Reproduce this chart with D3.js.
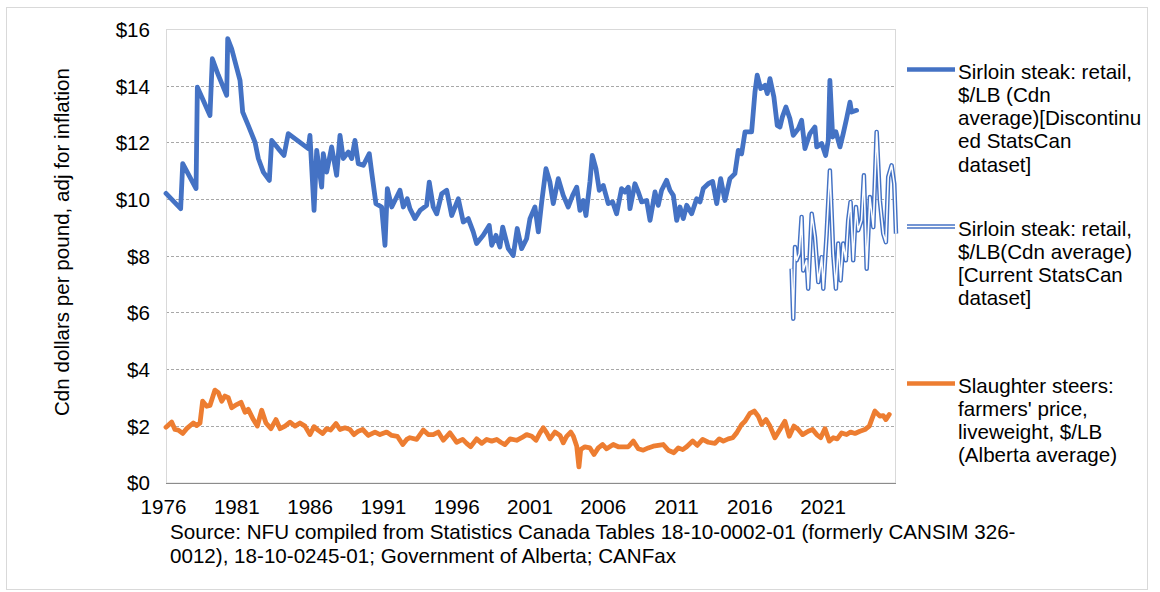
<!DOCTYPE html>
<html>
<head>
<meta charset="utf-8">
<script src="https://cdn.jsdelivr.net/npm/d3@7"></script>
<style>
  html, body { margin: 0; padding: 0; background: #fff; }
  svg { display: block; font-family: "Liberation Sans", Arial, sans-serif; }
</style>
</head>
<body>
<svg id="chart" width="1160" height="592"></svg>
<script>
// ---- DATA (decimal year, $/lb) ----
const sirloinOld = [
  [1976.0,10.2],[1977.0,9.66],[1977.14,11.25],[1978.05,10.37],[1978.14,13.95],[1978.44,13.6],
  [1979.0,12.95],[1979.16,14.95],[1979.57,14.37],[1980.14,13.66],[1980.21,15.66],[1980.48,15.3],
  [1981.05,14.19],[1981.23,13.07],[1981.61,12.6],[1982.07,12.01],[1982.3,11.43],[1982.64,10.95],
  [1983.05,10.66],[1983.21,12.07],[1983.66,11.78],[1984.05,11.54],[1984.34,12.31],[1985.71,11.78],
  [1985.82,12.25],[1986.1,9.6],[1986.28,11.72],[1986.62,10.42],[1986.73,11.6],[1986.96,10.95],
  [1987.3,11.84],[1987.64,10.84],[1987.87,12.25],[1988.09,11.43],[1988.44,11.66],[1988.67,11.43],
  [1988.89,12.07],[1989.12,11.25],[1989.46,11.19],[1989.87,11.6],[1990.03,10.95],[1990.32,9.84],
  [1990.71,9.72],[1990.94,8.37],[1991.1,10.37],[1991.4,9.72],[1991.96,10.31],[1992.19,9.72],
  [1992.46,10.01],[1992.64,9.66],[1992.98,9.31],[1993.33,9.6],[1993.78,9.78],[1993.96,10.6],
  [1994.23,9.72],[1994.47,9.48],[1994.81,10.19],[1995.15,10.31],[1995.49,9.42],[1995.94,10.01],
  [1996.28,9.19],[1996.62,9.31],[1996.96,8.84],[1997.19,8.43],[1997.64,8.72],[1998.05,9.07],
  [1998.22,8.37],[1998.51,8.72],[1998.78,8.31],[1998.97,9.01],[1999.35,8.25],[1999.69,8.01],
  [1999.96,8.96],[2000.26,8.25],[2000.6,8.6],[2000.83,9.31],[2001.17,9.72],[2001.4,8.84],
  [2001.63,9.9],[2001.92,11.07],[2002.19,10.6],[2002.42,9.84],[2002.76,10.72],[2003.1,10.13],
  [2003.44,9.72],[2003.74,10.13],[2004.02,10.42],[2004.24,9.6],[2004.47,9.95],[2004.65,9.42],
  [2004.92,10.6],[2005.08,11.54],[2005.33,11.07],[2005.56,10.31],[2005.83,10.48],[2006.17,9.84],
  [2006.47,9.9],[2006.74,9.48],[2007.08,10.37],[2007.31,10.25],[2007.54,10.42],[2007.65,9.66],
  [2007.99,10.54],[2008.22,10.25],[2008.45,9.9],[2008.79,9.95],[2009.02,9.25],[2009.36,10.25],
  [2009.58,9.78],[2009.81,10.31],[2010.15,10.66],[2010.38,10.31],[2010.61,10.13],[2010.84,9.25],
  [2011.06,9.72],[2011.29,9.31],[2011.52,9.78],[2011.86,9.48],[2012.2,10.01],[2012.43,9.9],
  [2012.65,10.37],[2012.99,10.54],[2013.29,10.62],[2013.57,9.84],[2013.84,10.72],[2014.13,9.95],
  [2014.47,10.72],[2014.81,10.9],[2015.04,11.72],[2015.27,11.6],[2015.5,12.37],[2015.95,12.37],
  [2016.18,13.78],[2016.33,14.37],[2016.57,13.9],[2016.86,14.01],[2017.02,13.72],[2017.2,14.25],
  [2017.47,13.6],[2017.7,12.6],[2017.88,12.54],[2018.05,12.9],[2018.29,13.25],[2018.56,12.84],
  [2018.79,12.25],[2019.13,12.48],[2019.36,12.78],[2019.59,11.78],[2019.93,12.31],[2020.27,12.54],
  [2020.39,11.84],[2020.73,11.96],[2021.0,11.54],[2021.18,12.07],[2021.29,14.19],[2021.48,12.19],
  [2021.7,12.37],[2021.98,11.84],[2022.2,12.31],[2022.43,12.84],[2022.66,13.42],[2022.77,13.07],
  [2023.11,13.13]
];
const sirloinCurrent = [
  [2018.68,7.54],[2018.79,5.78],[2018.91,8.31],[2019.02,7.84],[2019.2,8.07],[2019.36,9.37],
  [2019.47,7.48],[2019.7,7.84],[2019.81,6.84],[2020.05,9.48],[2020.27,8.66],[2020.5,7.07],
  [2020.73,7.95],[2020.84,6.84],[2021.07,8.78],[2021.29,11.01],[2021.52,8.07],[2021.7,6.84],
  [2021.86,8.43],[2022.02,7.13],[2022.2,8.43],[2022.38,7.84],[2022.54,9.25],[2022.7,9.9],
  [2022.88,7.84],[2023.07,9.72],[2023.22,8.9],[2023.45,9.25],[2023.61,10.84],[2023.8,7.54],
  [2024.02,10.07],[2024.25,9.01],[2024.48,12.37],[2024.7,9.95],[2024.93,8.78],[2025.11,8.48],
  [2025.27,10.78],[2025.5,11.19],[2025.68,10.54],[2025.8,8.78]
];
const steers = [
  [1976.0,1.95],[1976.39,2.13],[1976.61,1.87],[1976.84,1.85],[1977.14,1.73],[1977.41,1.9],
  [1977.86,2.1],[1978.09,2.01],[1978.32,2.1],[1978.5,2.87],[1978.78,2.69],[1979.0,2.72],
  [1979.34,3.26],[1979.57,3.17],[1979.8,2.87],[1980.02,3.05],[1980.25,2.99],[1980.48,2.64],
  [1980.82,2.75],[1981.12,2.83],[1981.39,2.48],[1981.61,2.58],[1981.96,2.22],[1982.23,1.99],
  [1982.53,2.55],[1982.82,2.1],[1983.16,1.9],[1983.5,2.22],[1983.78,1.9],[1984.12,1.99],
  [1984.46,2.13],[1984.8,1.99],[1985.14,2.1],[1985.48,1.99],[1985.82,1.69],[1986.1,1.97],
  [1986.39,1.84],[1986.69,1.73],[1986.96,1.9],[1987.23,1.85],[1987.6,2.08],[1987.87,1.87],
  [1988.21,1.93],[1988.55,1.87],[1988.82,1.69],[1989.12,1.81],[1989.42,1.87],[1989.8,1.66],
  [1990.26,1.78],[1990.6,1.69],[1991.05,1.78],[1991.4,1.66],[1991.78,1.63],[1992.15,1.34],
  [1992.42,1.52],[1992.64,1.58],[1993.1,1.52],[1993.55,1.85],[1993.89,1.69],[1994.23,1.69],
  [1994.57,1.78],[1994.92,1.49],[1995.37,1.75],[1995.83,1.42],[1996.24,1.52],[1996.51,1.38],
  [1996.78,1.26],[1997.19,1.54],[1997.54,1.38],[1997.88,1.52],[1998.22,1.46],[1998.56,1.52],
  [1998.83,1.42],[1999.12,1.34],[1999.47,1.54],[1999.92,1.49],[2000.26,1.58],[2000.6,1.69],
  [2000.95,1.63],[2001.24,1.49],[2001.51,1.75],[2001.74,1.93],[2001.97,1.75],[2002.19,1.54],
  [2002.53,1.78],[2002.88,1.66],[2003.1,1.4],[2003.33,1.63],[2003.61,1.78],[2003.79,1.63],
  [2004.02,1.28],[2004.17,0.55],[2004.29,1.16],[2004.58,1.26],[2004.92,1.22],[2005.2,0.99],
  [2005.49,1.22],[2005.79,1.34],[2006.06,1.19],[2006.51,1.34],[2006.85,1.26],[2007.19,1.26],
  [2007.54,1.26],[2007.88,1.46],[2008.22,1.19],[2008.56,1.14],[2008.9,1.22],[2009.24,1.28],
  [2009.58,1.31],[2009.92,1.34],[2010.26,1.14],[2010.65,1.05],[2010.95,1.22],[2011.25,1.16],
  [2011.52,1.26],[2011.93,1.46],[2012.24,1.31],[2012.61,1.52],[2012.99,1.42],[2013.45,1.38],
  [2013.74,1.54],[2014.02,1.46],[2014.36,1.54],[2014.66,1.58],[2014.93,1.75],[2015.27,2.05],
  [2015.5,2.16],[2015.84,2.44],[2016.13,2.52],[2016.4,2.34],[2016.63,2.05],[2016.93,2.22],
  [2017.2,1.99],[2017.54,1.58],[2017.88,1.87],[2018.22,2.16],[2018.52,1.63],[2018.84,1.99],
  [2019.13,1.87],[2019.43,1.69],[2019.81,1.81],[2020.11,1.87],[2020.39,1.69],[2020.66,1.58],
  [2020.95,1.9],[2021.25,1.46],[2021.52,1.58],[2021.79,1.54],[2022.09,1.75],[2022.43,1.69],
  [2022.7,1.78],[2023.0,1.73],[2023.34,1.81],[2023.68,1.87],[2023.98,1.99],[2024.14,2.22],
  [2024.36,2.52],[2024.7,2.34],[2024.93,2.36],[2025.11,2.22],[2025.34,2.4]
];
const yTicks = [0, 2, 4, 6, 8, 10, 12, 14, 16];
const xTickYears = [1976, 1981, 1986, 1991, 1996, 2001, 2006, 2011, 2016, 2021];
const legendItems = [
  { key: "old", lines: ["Sirloin steak: retail,", "$/LB (Cdn", "average)[Discontinu", "ed StatsCan", "dataset]"] },
  { key: "cur", lines: ["Sirloin steak: retail,", "$/LB(Cdn average)", "[Current StatsCan", "dataset]"] },
  { key: "steer", lines: ["Slaughter steers:", "farmers' price,", "liveweight, $/LB", "(Alberta average)"] }
];
const yTitle = "Cdn dollars per pound, adj for inflation";
const sourceLines = [
  "Source: NFU compiled from Statistics Canada Tables 18-10-0002-01 (formerly CANSIM 326-",
  "0012), 18-10-0245-01; Government of Alberta; CANFax"
];

// ---- LAYOUT ----
const BLUE = "#4472C4", ORANGE = "#ED7D31";
const FS = 20.6;
const plot = { left: 166, right: 895, top: 29, bottom: 482.5 };
const svg = d3.select("#chart");

// outer border
svg.append("rect").attr("x", 6.5).attr("y", 7.5).attr("width", 1141).attr("height", 582)
  .attr("fill", "#fff").attr("stroke", "#d9d9d9").attr("stroke-width", 1);

const x = d3.scaleLinear().domain([1976, 2025.8]).range([plot.left, plot.right + 1]);
const y = d3.scaleLinear().domain([0, 16]).range([plot.bottom, plot.top]);

// gridlines
svg.append("g").selectAll("line").data(yTicks.filter(d => d > 0 && d < 16)).join("line")
  .attr("x1", plot.left).attr("x2", plot.right)
  .attr("y1", d => Math.round(y(d)) + 0.5).attr("y2", d => Math.round(y(d)) + 0.5)
  .attr("stroke", "#a8a8a8").attr("stroke-dasharray", "3,2").attr("stroke-width", 1);

// plot border
svg.append("rect").attr("x", plot.left + 0.5).attr("y", plot.top + 0.5)
  .attr("width", plot.right - plot.left).attr("height", plot.bottom - plot.top)
  .attr("fill", "none").attr("stroke", "#d9d9d9");
// x axis line
svg.append("line").attr("x1", plot.left).attr("x2", plot.right + 1)
  .attr("y1", Math.round(plot.bottom) + 0.5).attr("y2", Math.round(plot.bottom) + 0.5)
  .attr("stroke", "#8c8c8c").attr("stroke-width", 1);

// y axis labels
const yAxis = d3.axisLeft(y).tickValues(yTicks).tickFormat(d => "$" + d).tickSize(0).tickPadding(0);
const gy = svg.append("g").attr("transform", `translate(150,0)`).call(yAxis);
gy.select(".domain").remove();
gy.selectAll("text").attr("font-size", FS).attr("fill", "#000")
  .attr("font-family", "Liberation Sans, Arial, sans-serif").attr("dy", "0.36em");

// x axis labels
const xAxis = d3.axisBottom(x).tickValues(xTickYears).tickFormat(d3.format("d")).tickSize(0).tickPadding(0);
const gx = svg.append("g").attr("transform", `translate(-3,${plot.bottom + 17})`).call(xAxis);
gx.select(".domain").remove();
gx.selectAll("text").attr("font-size", FS).attr("fill", "#000")
  .attr("font-family", "Liberation Sans, Arial, sans-serif").attr("dy", "0.71em");

// y title
svg.append("text").attr("transform", "translate(69,242) rotate(-90)")
  .attr("text-anchor", "middle").attr("font-size", FS).attr("fill", "#000").text(yTitle);

// source
svg.append("g").selectAll("text").data(sourceLines).join("text")
  .attr("x", 170).attr("y", (d, i) => 539 + i * 24)
  .attr("font-size", FS).attr("fill", "#000").text(d => d);

// lines
const line = d3.line().x(d => x(d[0])).y(d => y(d[1]));
const g = svg.append("g");
g.append("path").datum(steers).attr("d", line).attr("fill", "none")
  .attr("stroke", ORANGE).attr("stroke-width", 4.8).attr("stroke-linejoin", "round").attr("stroke-linecap", "round");
g.append("path").datum(sirloinOld).attr("d", line).attr("fill", "none")
  .attr("stroke", BLUE).attr("stroke-width", 4.8).attr("stroke-linejoin", "round").attr("stroke-linecap", "round");
g.append("path").datum(sirloinCurrent).attr("d", line).attr("fill", "none")
  .attr("stroke", BLUE).attr("stroke-width", 4.5).attr("stroke-linejoin", "round");
g.append("path").datum(sirloinCurrent).attr("d", line).attr("fill", "none")
  .attr("stroke", "#fff").attr("stroke-width", 1.6).attr("stroke-linejoin", "round");

// legend
const legY = [69.5, 226.5, 383.5];
const leg = svg.append("g");
legendItems.forEach((item, i) => {
  const ly = legY[i];
  if (item.key === "old") {
    leg.append("line").attr("x1", 907).attr("x2", 955).attr("y1", ly).attr("y2", ly)
      .attr("stroke", BLUE).attr("stroke-width", 4.5);
  } else if (item.key === "cur") {
    leg.append("line").attr("x1", 907).attr("x2", 955).attr("y1", ly).attr("y2", ly)
      .attr("stroke", BLUE).attr("stroke-width", 4.5);
    leg.append("line").attr("x1", 907).attr("x2", 955).attr("y1", ly).attr("y2", ly)
      .attr("stroke", "#fff").attr("stroke-width", 1.6);
  } else {
    leg.append("line").attr("x1", 907).attr("x2", 955).attr("y1", ly).attr("y2", ly)
      .attr("stroke", ORANGE).attr("stroke-width", 4.5);
  }
  leg.append("g").selectAll("text").data(item.lines).join("text")
    .attr("x", 958).attr("y", (d, j) => ly + 9 + j * 23.3)
    .attr("font-size", FS).attr("fill", "#000").text(d => d);
});
</script>
</body>
</html>
